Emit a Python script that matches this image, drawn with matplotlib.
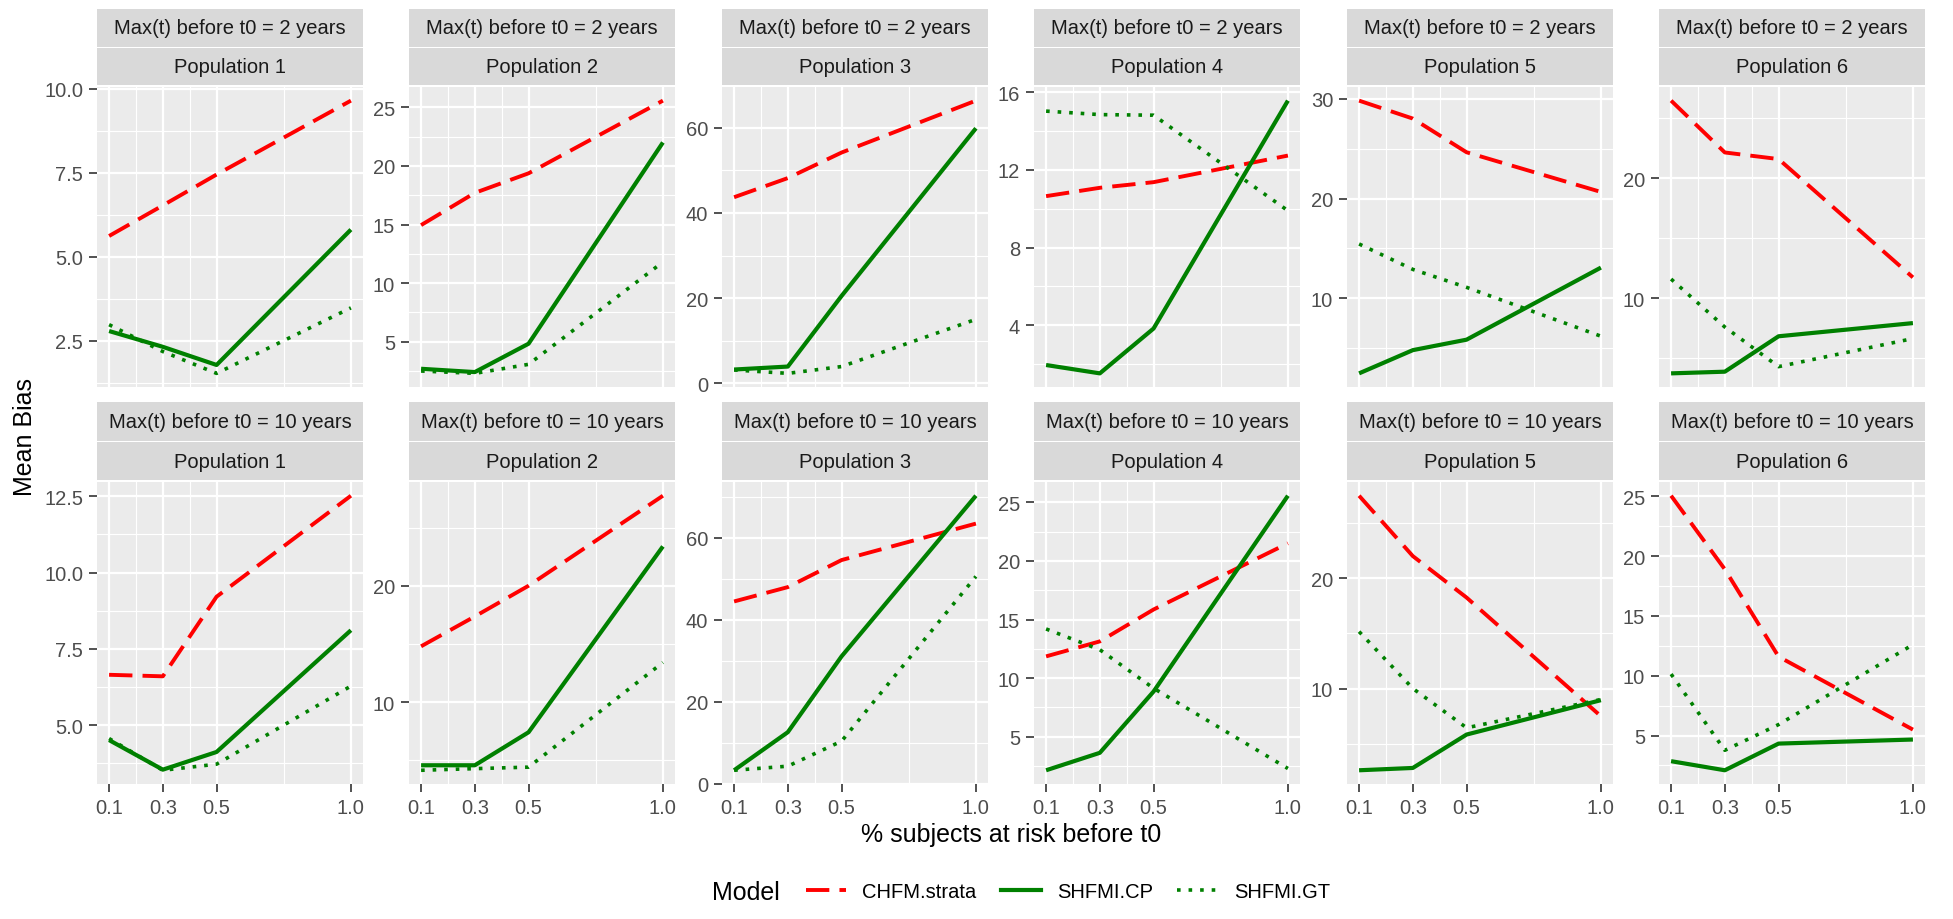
import matplotlib
matplotlib.use("Agg")
import matplotlib.pyplot as plt
from matplotlib.lines import Line2D

plt.rcParams['font.family'] = ['Liberation Sans', 'DejaVu Sans']

# proportion of subjects at risk before t0
x_vals = [0.1, 0.3, 0.5, 1.0]
x_ticks = [0.1, 0.3, 0.5, 1.0]
x_minor = [0.2, 0.4, 0.75]

populations = ["Population 1", "Population 2", "Population 3",
               "Population 4", "Population 5", "Population 6"]
max_t_labels = ["Max(t) before t0 = 2 years", "Max(t) before t0 = 10 years"]
models = ["CHFM.strata", "SHFMI.CP", "SHFMI.GT"]

# mean bias, max(t) before t0 = 2 years (one list per population)
chfm_strata_2y = [[5.62, 6.53, 7.45, 9.65],
                  [14.95, 17.7, 19.37, 25.57],
                  [43.7, 48.2, 54.2, 66.4],
                  [10.65, 11.08, 11.37, 12.74],
                  [29.83, 28.03, 24.65, 20.67],
                  [26.47, 22.15, 21.6, 11.74]]
shfmi_cp_2y = [[2.79, 2.32, 1.78, 5.81],
               [2.69, 2.41, 4.83, 22.0],
               [3.2, 3.9, 20.5, 59.9],
               [1.95, 1.52, 3.83, 15.57],
               [2.47, 4.8, 5.85, 13.08],
               [3.74, 3.88, 6.83, 7.93]]
shfmi_gt_2y = [[2.98, 2.18, 1.53, 3.48],
               [2.5, 2.3, 3.07, 11.8],
               [3.1, 2.3, 3.9, 15.0],
               [15.03, 14.85, 14.82, 9.9],
               [15.45, 12.9, 11.1, 6.2],
               [11.6, 7.6, 4.3, 6.64]]

# mean bias, max(t) before t0 = 10 years
chfm_strata_10y = [[6.65, 6.6, 9.21, 12.52],
                   [14.79, 17.36, 20.0, 27.74],
                   [44.5, 48.0, 54.6, 63.5],
                   [11.86, 13.14, 15.86, 21.51],
                   [27.46, 22.0, 18.25, 7.52],
                   [25.05, 18.9, 11.6, 5.5]]
shfmi_cp_10y = [[4.51, 3.54, 4.12, 8.11],
                [4.56, 4.56, 7.4, 23.38],
                [3.3, 12.6, 31.1, 70.3],
                [2.14, 3.63, 8.86, 25.57],
                [2.63, 2.84, 5.86, 8.97],
                [2.86, 2.1, 4.33, 4.67]]
shfmi_gt_10y = [[4.56, 3.52, 3.72, 6.28],
                [4.13, 4.27, 4.4, 13.4],
                [3.3, 4.3, 10.4, 50.6],
                [14.2, 12.43, 9.14, 2.29],
                [15.17, 10.03, 6.47, 9.03],
                [10.14, 3.77, 5.92, 12.6]]

yticks_2y = [[2.5, 5.0, 7.5, 10.0], [5, 10, 15, 20, 25], [0, 20, 40, 60],
             [4, 8, 12, 16], [10, 20, 30], [10, 20]]
yticks_10y = [[5.0, 7.5, 10.0, 12.5], [10, 20], [0, 20, 40, 60],
              [5, 10, 15, 20, 25], [10, 20], [5, 10, 15, 20, 25]]
ylabels_2y = [["2.5", "5.0", "7.5", "10.0"], None, None, None, None, None]
ylabels_10y = [["5.0", "7.5", "10.0", "12.5"], None, None, None, None, None]

colors = {"CHFM.strata": "#FF0000", "SHFMI.CP": "#008000", "SHFMI.GT": "#008000"}
styles = {"CHFM.strata": (0, (6, 2.6)), "SHFMI.CP": "-", "SHFMI.GT": (0, (1, 2.2))}
widths = {"CHFM.strata": 2.8, "SHFMI.CP": 3.0, "SHFMI.GT": 2.6}

W, H = 1953, 920
fig = plt.figure(figsize=(W / 100, H / 100), dpi=100)
fig.patch.set_facecolor("white")


def box(x0, y0, x1, y1):
    return [x0 / W, 1 - y1 / H, (x1 - x0) / W, (y1 - y0) / H]


col_left = [97, 409, 722, 1034, 1347, 1659]
panel_w = 266
rows = [
    {"panel": (88, 388), "strips": [(10, 48), (49, 86)], "label": max_t_labels[0],
     "data": (chfm_strata_2y, shfmi_cp_2y, shfmi_gt_2y), "ticks": yticks_2y,
     "tlabels": ylabels_2y, "bottom": False},
    {"panel": (483, 785), "strips": [(403, 442), (443, 481)], "label": max_t_labels[1],
     "data": (chfm_strata_10y, shfmi_cp_10y, shfmi_gt_10y), "ticks": yticks_10y,
     "tlabels": ylabels_10y, "bottom": True},
]

for row in rows:
    for i, pop in enumerate(populations):
        x0 = col_left[i]
        x1 = x0 + panel_w
        ax = fig.add_axes(box(x0, row["panel"][0], x1, row["panel"][1]))
        ax.set_facecolor("#EBEBEB")

        series = [row["data"][k][i] for k in range(3)]
        lo = min(min(s) for s in series)
        hi = max(max(s) for s in series)
        pad = 0.05 * (hi - lo)
        ax.set_ylim(lo - pad, hi + pad)
        ax.set_xlim(0.1 - 0.045, 1.0 + 0.045)

        ticks = [t for t in row["ticks"][i] if lo - pad <= t <= hi + pad]
        step = row["ticks"][i][1] - row["ticks"][i][0]
        minor = [t - step / 2 for t in row["ticks"][i]] + [row["ticks"][i][-1] + step / 2]
        minor = [m for m in minor if lo - pad <= m <= hi + pad]

        for m in minor:
            ax.axhline(m, color="white", lw=0.8, zorder=0.5)
        for t in ticks:
            ax.axhline(t, color="white", lw=1.6, zorder=0.6)
        for m in x_minor:
            ax.axvline(m, color="white", lw=0.8, zorder=0.5)
        for t in x_ticks:
            ax.axvline(t, color="white", lw=1.6, zorder=0.6)

        for name, vals in zip(models, series):
            ax.plot(x_vals, vals, color=colors[name], linestyle=styles[name],
                    lw=widths[name], zorder=2, solid_capstyle="butt",
                    dash_capstyle="butt")

        ax.set_yticks(ticks)
        if row["tlabels"][i] is not None:
            ax.set_yticklabels(row["tlabels"][i])
        else:
            ax.set_yticklabels([f"{t:g}" for t in ticks])
        ax.set_xticks(x_ticks)
        if row["bottom"]:
            ax.set_xticklabels(["0.1", "0.3", "0.5", "1.0"])
            ax.tick_params(axis="x", length=6, width=1.2, color="#333333",
                           labelsize=14.5, labelcolor="#4D4D4D", pad=4)
        else:
            ax.tick_params(axis="x", length=0, labelbottom=False)
        ax.tick_params(axis="y", length=6, width=1.2, color="#333333",
                       labelsize=14.5, labelcolor="#4D4D4D", pad=4)
        for sp in ax.spines.values():
            sp.set_visible(False)

        # two stacked facet strips
        for (s0, s1), text in zip(row["strips"], [row["label"], pop]):
            sax = fig.add_axes(box(x0, s0, x1, s1))
            sax.set_facecolor("#D9D9D9")
            sax.set_xticks([])
            sax.set_yticks([])
            for sp in sax.spines.values():
                sp.set_visible(False)
            sax.text(0.5, 0.5, text, ha="center", va="center", fontsize=14.5,
                     color="#1A1A1A", transform=sax.transAxes)

fig.text(25 / W, 1 - 437 / H, "Mean Bias", rotation=90, ha="center", va="center",
         fontsize=18, color="black")
fig.text(1011 / W, 1 - 835 / H, "% subjects at risk before t0", ha="center",
         va="center", fontsize=18, color="black")

handles = [Line2D([], [], color=colors[m], linestyle=styles[m], lw=widths[m])
           for m in models]
fig.text(712 / W, 1 - 893 / H, "Model", ha="left", va="center", fontsize=18)
fig.legend(handles, models, loc="center left", bbox_to_anchor=(796 / W, 1 - 893 / H),
           ncol=3, frameon=False, fontsize=14.5, handlelength=2.0,
           handletextpad=0.8, columnspacing=1.2, borderpad=0)

fig.savefig("out.png", dpi=100)
